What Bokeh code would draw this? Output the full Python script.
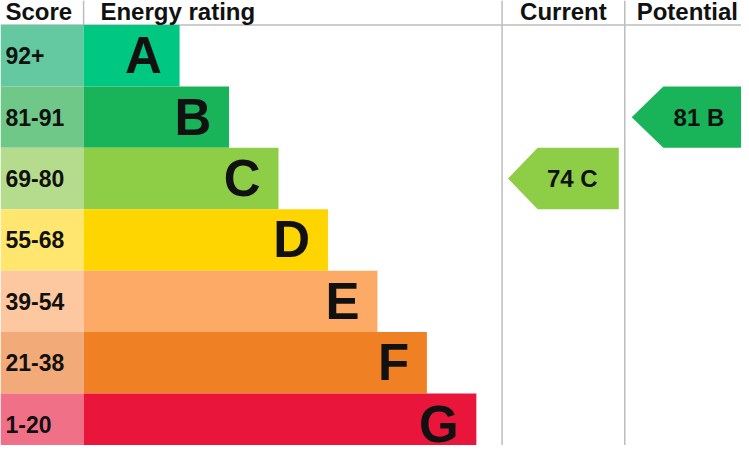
from bokeh.plotting import figure
from bokeh.models import Range1d, ColumnDataSource
from bokeh.embed import file_html
from bokeh.resources import INLINE
from bokeh.core.properties import value

# ---- data ----
bands = ["A", "B", "C", "D", "E", "F", "G"]
score_ranges = ["92+", "81-91", "69-80", "55-68", "39-54", "21-38", "1-20"]
band_min = [92, 81, 69, 55, 39, 21, 1]
band_colors = ["#00c781", "#19b459", "#8dce46", "#ffd500", "#fcaa65", "#ef8023", "#e9153b"]
score_colors = ["#64c8a0", "#70c888", "#b4dc8c", "#ffe66e", "#fdc8a0", "#f2aa78", "#f07088"]
headers = ["Score", "Energy rating", "Current", "Potential"]
current_rating = 74
potential_rating = 81

# ---- layout constants (reference pixel space) ----
W, H = 749, 453
HEADER_H = 25
ROW_H = 62.5
SCORE_W = 84
BAR_FIRST = 181
BAR_STEP = 50
CUR_X0, CUR_X1 = 507, 631
POT_X0 = 631
FONT = "Liberation Sans"

p = figure(width=741, height=445, output_backend="svg", toolbar_location=None,
           x_range=Range1d(0, W), y_range=Range1d(H, 0), min_border=0)
p.axis.visible = False
p.grid.visible = False
p.outline_line_color = None
p.background_fill_color = "white"

tops = [HEADER_H + i * ROW_H for i in range(len(bands))]
bottoms = [t + ROW_H for t in tops]
centers = [t + ROW_H / 2 for t in tops]
bar_right = [BAR_FIRST + BAR_STEP * i for i in range(len(bands))]

src = ColumnDataSource(dict(band=bands, score=score_ranges, color=band_colors,
                            scolor=score_colors, top=tops, bottom=bottoms, center=centers,
                            right=bar_right, letter_x=[r - 18 for r in bar_right]))

# grid lines
p.segment(x0=[0], y0=[HEADER_H], x1=[W], y1=[HEADER_H], line_color="#bdbdbd", line_width=1.5)
p.segment(x0=[SCORE_W, CUR_X0, CUR_X1], y0=[0, 0, 0], x1=[SCORE_W, CUR_X0, CUR_X1],
          y1=[HEADER_H, H, H], line_color="#bdbdbd", line_width=1.5)

# score cells and bars
p.quad(left=0, right=SCORE_W, top="top", bottom="bottom", fill_color="scolor",
       line_color=None, source=src)
p.quad(left=SCORE_W, right="right", top="top", bottom="bottom", fill_color="color",
       line_color=None, source=src)

p.text(x=5, y="center", text="score", source=src, text_font=value(FONT),
       text_font_style="bold", text_font_size="23px", text_baseline="alphabetic",
       text_align="left", text_color="#111111")
p.text(x="letter_x", y="center", text="band", source=src, text_font=value(FONT),
       text_font_style="bold", text_font_size="51px", text_baseline="alphabetic",
       text_align="right", text_color="#111111")

# headers
p.text(x=[5, 101, 569, 643], y=[11, 11, 11, 11], text=headers, text_font=value(FONT),
       text_font_style="bold", text_font_size="24px", text_baseline="alphabetic",
       text_align=["left", "left", "center", "left"], text_color="#111111")


def band_index(r):
    for i, m in enumerate(band_min):
        if r >= m:
            return i
    return len(bands) - 1


ci = band_index(current_rating)
pi = band_index(potential_rating)

arrows_x = [
    [CUR_X0 + 6, CUR_X0 + 36, CUR_X1 - 6, CUR_X1 - 6, CUR_X0 + 36],
    [POT_X0 + 7, POT_X0 + 39, W + 20, W + 20, POT_X0 + 39],
]
arrows_y = [
    [centers[ci], tops[ci], tops[ci], bottoms[ci], bottoms[ci]],
    [centers[pi], tops[pi], tops[pi], bottoms[pi], bottoms[pi]],
]
p.patches(xs=arrows_x, ys=arrows_y, fill_color=[band_colors[ci], band_colors[pi]], line_color=None)

p.text(x=[578, 706], y=[centers[ci], centers[pi]],
       text=[f"{current_rating} {bands[ci]}", f"{potential_rating} {bands[pi]}"],
       text_font=value(FONT), text_font_style="bold", text_font_size="24px",
       text_baseline="alphabetic", text_align="center", text_color="#111111")

open("out.html", "w").write(file_html(p, INLINE))
